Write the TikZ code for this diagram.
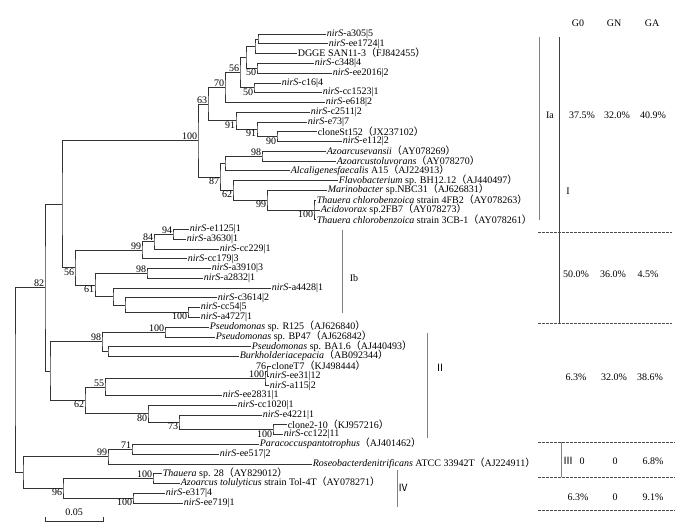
\documentclass[tikz,border=0pt]{standalone}
\usepackage{fontspec}
\setmainfont{Liberation Serif}
\newfontfamily\cjkfont{Noto Sans CJK SC}
\newcommand\nir{\textit{nirS}}
\newcommand\lp{\smash{\cjkfont （}}
\newcommand\rp{\smash{\cjkfont ）}}
\begin{document}
\begin{tikzpicture}[x=1pt,y=-1pt,
  tree/.style={line width=0.7pt,draw=black!80},
  leaf/.style={anchor=west,inner sep=0.6pt,font=\fontsize{10}{12}\selectfont},
  bsa/.style={anchor=south east,inner sep=0.6pt,font=\fontsize{10}{12}\selectfont},
  bsb/.style={anchor=north east,inner sep=0.6pt,font=\fontsize{10}{12}\selectfont},
  grp/.style={draw=black!50,line width=0.8pt},
  grpd/.style={draw=black!75,line width=0.8pt},
  dsh/.style={draw=black!70,dash pattern=on 2.5pt off 1.5pt,line width=0.7pt},
  cell/.style={inner sep=0pt,font=\fontsize{10}{12}\selectfont}]
\fill[white] (0,0) rectangle (697,531);
\useasboundingbox (0,0) rectangle (697,531);
% ---------- leaves ----------
\coordinate (L1) at (326,34.0);
\coordinate (L2) at (328,43.8);
\coordinate (L3) at (297,53.5);
\coordinate (L4) at (314,63.3);
\coordinate (L5) at (332,73.1);
\coordinate (L6) at (281,82.9);
\coordinate (L7) at (322,92.6);
\coordinate (L8) at (325,102.4);
\coordinate (L9) at (310,112.2);
\coordinate (L10) at (307,121.9);
\coordinate (L11) at (317,131.7);
\coordinate (L12) at (342,141.5);
\coordinate (L13) at (326,151.2);
\coordinate (L14) at (336,161.0);
\coordinate (L15) at (290,170.8);
\coordinate (L16) at (338,180.6);
\coordinate (L17) at (327,190.3);
\coordinate (L18) at (316,200.1);
\coordinate (L19) at (320,209.9);
\coordinate (L20) at (316,219.6);
\coordinate (L21) at (189,229.4);
\coordinate (L22) at (186,239.2);
\coordinate (L23) at (219,248.9);
\coordinate (L24) at (187,258.7);
\coordinate (L25) at (211,268.5);
\coordinate (L26) at (203,278.3);
\coordinate (L27) at (271,288.0);
\coordinate (L28) at (217,297.8);
\coordinate (L29) at (200,307.6);
\coordinate (L30) at (200,317.3);
\coordinate (L31) at (209,327.1);
\coordinate (L32) at (215,336.9);
\coordinate (L33) at (251,346.6);
\coordinate (L34) at (239,356.4);
\coordinate (L35) at (271,366.2);
\coordinate (L36) at (269,376.0);
\coordinate (L37) at (269,385.7);
\coordinate (L38) at (222,395.5);
\coordinate (L39) at (237,405.3);
\coordinate (L40) at (262,415.0);
\coordinate (L41) at (287,424.8);
\coordinate (L42) at (283,434.6);
\coordinate (L43) at (259,444.4);
\coordinate (L44) at (219,454.1);
\coordinate (L45) at (312,463.9);
\coordinate (L46) at (162,473.7);
\coordinate (L47) at (180,483.4);
\coordinate (L48) at (165,493.2);
\coordinate (L49) at (183,503.0);
% ---------- internal nodes ----------
\coordinate (X1a) at (258,38.9);
\coordinate (X1) at (255,46.2);
\coordinate (X2) at (257,68.2);
\coordinate (X3) at (246,57.2);
\coordinate (X4) at (254,87.8);
\coordinate (N56t) at (240,72.5);
\coordinate (N70) at (225,87.45);
\coordinate (N90) at (277,136.6);
\coordinate (N91b) at (257,129.25);
\coordinate (N91a) at (236,120.7);
\coordinate (N63) at (208,104.1);
\coordinate (N98a) at (262,156.1);
\coordinate (Nev) at (225,163.45);
\coordinate (N100b) at (314,209.9);
\coordinate (N99a) at (267,200.1);
\coordinate (N62a) at (233,190.35);
\coordinate (N87) at (220,176.9);
\coordinate (NIa) at (198,140.5);
\coordinate (N94) at (173,234.3);
\coordinate (N84) at (154,241.6);
\coordinate (N99b) at (142,250.15);
\coordinate (N98b) at (147,273.4);
\coordinate (N100c) at (188,312.45);
\coordinate (NY) at (125,305.1);
\coordinate (NX) at (113,296.55);
\coordinate (N61) at (95,285.0);
\coordinate (N56b) at (75,267.6);
\coordinate (NA) at (62,204.05);
\coordinate (N100d) at (165,332.0);
\coordinate (NBB) at (108,351.5);
\coordinate (N98c) at (102,341.75);
\coordinate (N76) at (267,371.1);
\coordinate (N100e) at (265,378.4);
\coordinate (N55) at (105,386.95);
\coordinate (N100f) at (273,429.7);
\coordinate (N73) at (179,422.35);
\coordinate (N80) at (148,413.8);
\coordinate (N62b) at (85,400.4);
\coordinate (NII) at (50,371.1);
\coordinate (N82) at (45,287.6);
\coordinate (N71) at (132,449.25);
\coordinate (N99c) at (108,456.6);
\coordinate (N100g) at (153,478.55);
\coordinate (N100h) at (133,498.1);
\coordinate (N96) at (63,488.3);
\coordinate (N34) at (23,472.45);
\coordinate (Root) at (15,380.0);
% ---------- branches ----------
\draw[tree] (L1) -| (X1a) |- (L2);
\draw[tree] (X1a) -| (X1) |- (L3);
\draw[tree] (L4) -| (X2) |- (L5);
\draw[tree] (X1) -| (X3) |- (X2);
\draw[tree] (L6) -| (X4) |- (L7);
\draw[tree] (X3) -| (N56t) |- (X4);
\draw[tree] (N56t) -| (N70) |- (L8);
\draw[tree] (L11) -| (N90) |- (L12);
\draw[tree] (L10) -| (N91b) |- (N90);
\draw[tree] (L9) -| (N91a) |- (N91b);
\draw[tree] (N70) -| (N63) |- (N91a);
\draw[tree] (L13) -| (N98a) |- (L14);
\draw[tree] (N98a) -| (Nev) |- (L15);
\draw[tree] (L18) -| (N100b) |- (L20);
\draw[tree] (N100b) -- (L19);
\draw[tree] (L17) -| (N99a) |- (N100b);
\draw[tree] (L16) -| (N62a) |- (N99a);
\draw[tree] (Nev) -| (N87) |- (N62a);
\draw[tree] (N63) -| (NIa) |- (N87);
\draw[tree] (L21) -| (N94) |- (L22);
\draw[tree] (N94) -| (N84) |- (L23);
\draw[tree] (N84) -| (N99b) |- (L24);
\draw[tree] (L25) -| (N98b) |- (L26);
\draw[tree] (L29) -| (N100c) |- (L30);
\draw[tree] (L28) -| (NY) |- (N100c);
\draw[tree] (L27) -| (NX) |- (NY);
\draw[tree] (N98b) -| (N61) |- (NX);
\draw[tree] (N99b) -| (N56b) |- (N61);
\draw[tree] (NIa) -| (NA) |- (N56b);
\draw[tree] (L31) -| (N100d) |- (L32);
\draw[tree] (L33) -| (NBB) |- (L34);
\draw[tree] (N100d) -| (N98c) |- (NBB);
\draw[tree] (L35) -| (N76) |- (L36);
\draw[tree] (N76) -| (N100e) |- (L37);
\draw[tree] (N100e) -| (N55) |- (L38);
\draw[tree] (L41) -| (N100f) |- (L42);
\draw[tree] (L40) -| (N73) |- (N100f);
\draw[tree] (L39) -| (N80) |- (N73);
\draw[tree] (N55) -| (N62b) |- (N80);
\draw[tree] (N98c) -| (NII) |- (N62b);
\draw[tree] (NA) -| (N82) |- (NII);
\draw[tree] (L43) -| (N71) |- (L44);
\draw[tree] (N71) -| (N99c) |- (L45);
\draw[tree] (L46) -| (N100g) |- (L47);
\draw[tree] (L48) -| (N100h) |- (L49);
\draw[tree] (N100g) -| (N96) |- (N100h);
\draw[tree] (N99c) -| (N34) |- (N96);
\draw[tree] (N82) -| (Root) |- (N34);
% ---------- leaf labels ----------
\node[leaf] (t1) at (L1) {\nir-a305|5};
\node[leaf] (t2) at (L2) {\nir-ee1724|1};
\node[leaf] (t3) at (L3) {DGGE SAN11-3\lp FJ842455\rp};
\node[leaf] (t4) at (L4) {\nir-c348|4};
\node[leaf] (t5) at (L5) {\nir-ee2016|2};
\node[leaf] (t6) at (L6) {\nir-c16|4};
\node[leaf] (t7) at (L7) {\nir-cc1523|1};
\node[leaf] (t8) at (L8) {\nir-e618|2};
\node[leaf] (t9) at (L9) {\nir-c2511|2};
\node[leaf] (t10) at (L10) {\nir-e73|7};
\node[leaf] (t11) at (L11) {cloneSt152\lp JX237102\rp};
\node[leaf] (t12) at (L12) {\nir-e112|2};
\node[leaf] (t13) at (L13) {\textit{Azoarcusevansii}\lp AY078269\rp};
\node[leaf] (t14) at (L14) {\textit{Azoarcustoluvorans}\lp AY078270\rp};
\node[leaf] (t15) at (L15) {\textit{Alcaligenesfaecalis} A15\lp AJ224913\rp};
\node[leaf] (t16) at (L16) {\textit{Flavobacterium} sp. BH12.12\lp AJ440497\rp};
\node[leaf] (t17) at (L17) {\textit{Marinobacter} sp.NBC31\lp AJ626831\rp};
\node[leaf] (t18) at (L18) {\textit{Thauera chlorobenzoica} strain 4FB2\lp AY078263\rp};
\node[leaf] (t19) at (L19) {\textit{Acidovorax} sp.2FB7\lp AY078273\rp};
\node[leaf] (t20) at (L20) {\textit{Thauera chlorobenzoica} strain 3CB-1\lp AY078261\rp};
\node[leaf] (t21) at (L21) {\nir-e1125|1};
\node[leaf] (t22) at (L22) {\nir-a3630|1};
\node[leaf] (t23) at (L23) {\nir-cc229|1};
\node[leaf] (t24) at (L24) {\nir-cc179|3};
\node[leaf] (t25) at (L25) {\nir-a3910|3};
\node[leaf] (t26) at (L26) {\nir-a2832|1};
\node[leaf] (t27) at (L27) {\nir-a4428|1};
\node[leaf] (t28) at (L28) {\nir-c3614|2};
\node[leaf] (t29) at (L29) {\nir-cc54|5};
\node[leaf] (t30) at (L30) {\nir-a4727|1};
\node[leaf] (t31) at (L31) {\textit{Pseudomonas} sp. R125\lp AJ626840\rp};
\node[leaf] (t32) at (L32) {\textit{Pseudomonas} sp. BP47\lp AJ626842\rp};
\node[leaf] (t33) at (L33) {\textit{Pseudomonas} sp. BA1.6\lp AJ440493\rp};
\node[leaf] (t34) at (L34) {\textit{Burkholderiacepacia}\lp AB092344\rp};
\node[leaf] (t35) at (L35) {cloneT7\lp KJ498444\rp};
\node[leaf] (t36) at (L36) {\nir-ee31|12};
\node[leaf] (t37) at (L37) {\nir-a115|2};
\node[leaf] (t38) at (L38) {\nir-ee2831|1};
\node[leaf] (t39) at (L39) {\nir-cc1020|1};
\node[leaf] (t40) at (L40) {\nir-e4221|1};
\node[leaf] (t41) at (L41) {clone2-10\lp KJ957216\rp};
\node[leaf] (t42) at (L42) {\nir-cc122|11};
\node[leaf] (t43) at (L43) {\textit{Paracoccuspantotrophus}\lp AJ401462\rp};
\node[leaf] (t44) at (L44) {\nir-ee517|2};
\node[leaf] (t45) at (L45) {\textit{Roseobacterdenitrificans} ATCC 33942T\lp AJ224911\rp};
\node[leaf] (t46) at (L46) {\textit{Thauera} sp. 28\lp AY829012\rp};
\node[leaf] (t47) at (L47) {\textit{Azoarcus tolulyticus} strain Tol-4T\lp AY078271\rp};
\node[leaf] (t48) at (L48) {\nir-e317|4};
\node[leaf] (t49) at (L49) {\nir-ee719|1};
% ---------- bootstrap values ----------
\node[bsb] (bX2) at (X2) {50};
\node[bsb] (bX4) at (X4) {50};
\node[bsa] (b56t) at (N56t) {56};
\node[bsa] (b70) at (N70) {70};
\node[bsb] (b90) at (N90) {90};
\node[bsb] (b91b) at (N91b) {91};
\node[bsb] (b91a) at (N91a) {91};
\node[bsa] (b63) at (N63) {63};
\node[bsa] (b98a) at (N98a) {98};
\node[bsb] (b100b) at (N100b) {100};
\node[bsb] (b99a) at (N99a) {99};
\node[bsb] (b62a) at (N62a) {62};
\node[bsb] (b87) at (N87) {87};
\node[bsa] (bIa) at (NIa) {100};
\node[bsa] (b94) at (N94) {94};
\node[bsa] (b84) at (N84) {84};
\node[bsa] (b99b) at (N99b) {99};
\node[bsa] (b98b) at (N98b) {98};
\node[bsb] (b100c) at (N100c) {100};
\node[bsb] (b61) at (N61) {61};
\node[bsb] (b56b) at (N56b) {56};
\node[bsa] (b100d) at (N100d) {100};
\node[bsa] (b98c) at (N98c) {98};
\node[bsa,yshift=1pt] (b76) at (N76) {76};
\node[bsa] (b100e) at (N100e) {100};
\node[bsa] (b55) at (N55) {55};
\node[bsb] (b100f) at (N100f) {100};
\node[bsb] (b73) at (N73) {73};
\node[bsb] (b80) at (N80) {80};
\node[bsb] (b62b) at (N62b) {62};
\node[bsa] (b82) at (N82) {82};
\node[bsa] (b71) at (N71) {71};
\node[bsa] (b99c) at (N99c) {99};
\node[bsa] (b100g) at (N100g) {100};
\node[bsb] (b100h) at (N100h) {100};
\node[bsb] (b96) at (N96) {96};
% ---------- scale bar ----------
\coordinate (sbL) at (45,521);
\coordinate (sbR) at (103,521);
\draw[tree] ([yshift=4pt]sbL) -- (sbL) -- (sbR) -- ([yshift=4pt]sbR);
\node[cell] (sbT) at (74,512) {0.05};
% ---------- group brackets ----------
\coordinate (ibT) at (342,230); \coordinate (ibB) at (342,313);
\draw[grp] (ibT) -- (ibB);
\node[cell] (gIb) at (354,278) {Ib};
\coordinate (iiT) at (427,333); \coordinate (iiB) at (427,438);
\draw[grp] (iiT) -- (iiB);
\node[cell] (gII) at (440,368) {\cjkfont Ⅱ};
\coordinate (ivT) at (397,470); \coordinate (ivB) at (397,507);
\draw[grp] (ivT) -- (ivB);
\node[cell] (gIV) at (403,488) {\cjkfont Ⅳ};
\coordinate (iaT) at (539,37); \coordinate (iaB) at (539,220);
\draw[grp] (iaT) -- (iaB);
\node[cell] (gIa) at (550,115) {Ia};
\coordinate (iT) at (559,37); \coordinate (iB) at (559,323);
\draw[grpd] (iT) -- (iB);
\node[cell] (gI) at (568,191) {I};
\coordinate (iiiT) at (561,442); \coordinate (iiiB) at (561,477);
\draw[grp] (iiiT) -- (iiiB);
\node[cell] (gIII) at (568,461) {\cjkfont Ⅲ};
% ---------- table ----------
\node[cell] (hG0) at (578,23) {G0};
\node[cell] (hGN) at (614,23) {GN};
\node[cell] (hGA) at (652,23) {GA};
\node[cell] (r1a) at (582,115) {37.5\%};
\node[cell] (r1b) at (617,115) {32.0\%};
\node[cell] (r1c) at (653,115) {40.9\%};
\node[cell] (r2a) at (576,274) {50.0\%};
\node[cell] (r2b) at (613,274) {36.0\%};
\node[cell] (r2c) at (648,274) {4.5\%};
\node[cell] (r3a) at (576,377) {6.3\%};
\node[cell] (r3b) at (614,377) {32.0\%};
\node[cell] (r3c) at (650,377) {38.6\%};
\node[cell] (r4a) at (582,461) {0};
\node[cell] (r4b) at (615,461) {0};
\node[cell] (r4c) at (653,461) {6.8\%};
\node[cell] (r5a) at (578,497) {6.3\%};
\node[cell] (r5b) at (615,497) {0};
\node[cell] (r5c) at (653,497) {9.1\%};
\coordinate (d1L) at (538,232); \coordinate (d1R) at (672,232);
\coordinate (d2L) at (538,323); \coordinate (d2R) at (672,323);
\coordinate (d3L) at (538,442); \coordinate (d3R) at (675,442);
\coordinate (d4L) at (538,477); \coordinate (d4R) at (675,477);
\coordinate (d5L) at (538,510); \coordinate (d5R) at (675,510);
\draw[dsh] (d1L) -- (d1R);
\draw[dsh] (d2L) -- (d2R);
\draw[dsh] (d3L) -- (d3R);
\draw[dsh] (d4L) -- (d4R);
\draw[dsh] (d5L) -- (d5R);
\end{tikzpicture}
\end{document}
